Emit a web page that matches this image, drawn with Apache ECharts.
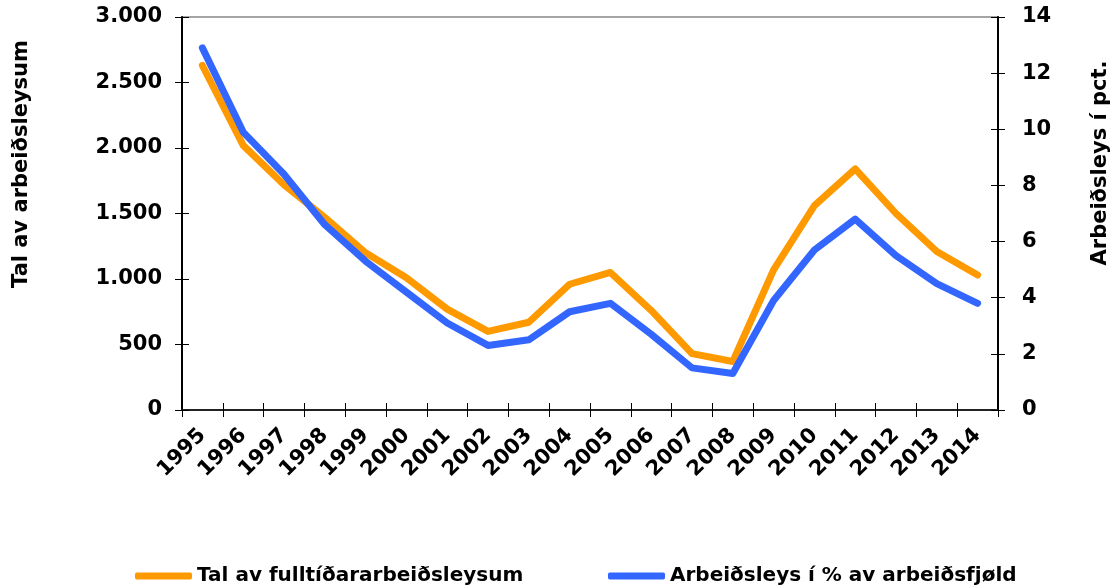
<!DOCTYPE html>
<html>
<head>
<meta charset="utf-8">
<script src="https://cdn.jsdelivr.net/npm/echarts@6/dist/echarts.min.js"></script>
<style>
html, body { margin: 0; padding: 0; background: #fff; }
#chart { width: 1117px; height: 587px; }
</style>
</head>
<body>
<div id="chart"></div>
<script>
// ár
var years = ['1995', '1996', '1997', '1998', '1999', '2000', '2001', '2002', '2003', '2004',
             '2005', '2006', '2007', '2008', '2009', '2010', '2011', '2012', '2013', '2014'];
// tal av fulltíðararbeiðsleysum (vinstru ás)
var fulltid = [2630, 2020, 1720, 1470, 1200, 1010, 770, 600, 670, 960,
               1050, 760, 430, 370, 1070, 1560, 1840, 1500, 1210, 1030];
// arbeiðsleysi í % (høgru ás)
var prosent = [12.9, 9.9, 8.4, 6.6, 5.3, 4.2, 3.1, 2.3, 2.5, 3.5,
               3.8, 2.7, 1.5, 1.3, 3.9, 5.7, 6.8, 5.5, 4.5, 3.8];
var seriesNames = ['Tal av fulltíðararbeiðsleysum', 'Arbeiðsleys í % av arbeiðsfjøld'];
var axisNames = ['Tal av arbeiðsleysum', 'Arbeiðsleys í pct.'];

var font = 'DejaVu Sans';
var chart = echarts.init(document.getElementById('chart'));

function thousands(v) {
    return String(v).replace(/\B(?=(\d{3})+(?!\d))/g, '.');
}

var labelStyle = { fontFamily: font, fontWeight: 'bold', fontSize: 21, color: '#000' };
var legendText = { fontFamily: font, fontWeight: 'bold', fontSize: 20, color: '#000' };

// ásar sum bert teikna innara partin av krossandi tikkunum
function innerY(min, max, step, pos) {
    return {
        type: 'value', min: min, max: max, interval: step, position: pos,
        axisLine: { show: false },
        axisTick: { show: true, inside: true, length: 7, lineStyle: { color: '#000' } },
        axisLabel: { show: false },
        splitLine: { show: false }
    };
}

chart.setOption({
    animation: false,
    textStyle: { fontFamily: font },
    grid: {
        left: 182, right: 119, top: 17, bottom: 177,
        show: true, borderColor: '#888', borderWidth: 1.5
    },
    legend: [{
        data: [seriesNames[0]],
        left: 135, top: 566, padding: 0,
        itemWidth: 57, itemHeight: 7,
        icon: 'roundRect',
        textStyle: legendText
    }, {
        data: [seriesNames[1]],
        left: 608, top: 566, padding: 0,
        itemWidth: 57, itemHeight: 7,
        icon: 'roundRect',
        textStyle: legendText
    }],
    graphic: [{
        type: 'text', x: 22, y: 164, rotation: Math.PI / 2,
        style: {
            text: axisNames[0], fill: '#000',
            font: 'bold 21px "DejaVu Sans"', align: 'center', verticalAlign: 'middle'
        }
    }, {
        type: 'text', x: 1101, y: 163, rotation: Math.PI / 2,
        style: {
            text: axisNames[1], fill: '#000',
            font: 'bold 21px "DejaVu Sans"', align: 'center', verticalAlign: 'middle'
        }
    }],
    xAxis: [{
        type: 'category',
        data: years,
        boundaryGap: true,
        axisLine: { lineStyle: { color: '#222', width: 2 } },
        axisTick: { show: true, length: 7, lineStyle: { color: '#000', width: 1 } },
        axisLabel: Object.assign({ rotate: 45, interval: 0, margin: 22 }, labelStyle)
    }, {
        type: 'category',
        data: years,
        boundaryGap: true,
        position: 'bottom',
        axisLine: { show: false },
        axisTick: { show: true, inside: true, length: 7, lineStyle: { color: '#000' } },
        axisLabel: { show: false }
    }],
    yAxis: [{
        type: 'value',
        min: 0, max: 3000, interval: 500,
        axisLine: { show: true, lineStyle: { color: '#000', width: 2 } },
        axisTick: { show: true, length: 7, lineStyle: { color: '#000' } },
        splitLine: { show: false },
        axisLabel: Object.assign({ margin: 20, formatter: thousands }, labelStyle)
    }, {
        type: 'value',
        min: 0, max: 14, interval: 2,
        axisLine: { show: true, lineStyle: { color: '#000', width: 2 } },
        axisTick: { show: true, length: 7, lineStyle: { color: '#000' } },
        splitLine: { show: false },
        axisLabel: Object.assign({ margin: 24 }, labelStyle)
    },
    innerY(0, 3000, 500, 'left'),
    innerY(0, 14, 2, 'right')],
    series: [{
        name: seriesNames[0],
        type: 'line',
        yAxisIndex: 0,
        data: fulltid,
        symbol: 'none',
        itemStyle: { color: '#FF9900' },
        lineStyle: { color: '#FF9900', width: 7, cap: 'round', join: 'round' }
    }, {
        name: seriesNames[1],
        type: 'line',
        yAxisIndex: 1,
        data: prosent,
        symbol: 'none',
        itemStyle: { color: '#3366FF' },
        lineStyle: { color: '#3366FF', width: 7, cap: 'round', join: 'round' }
    }]
});
</script>
</body>
</html>
